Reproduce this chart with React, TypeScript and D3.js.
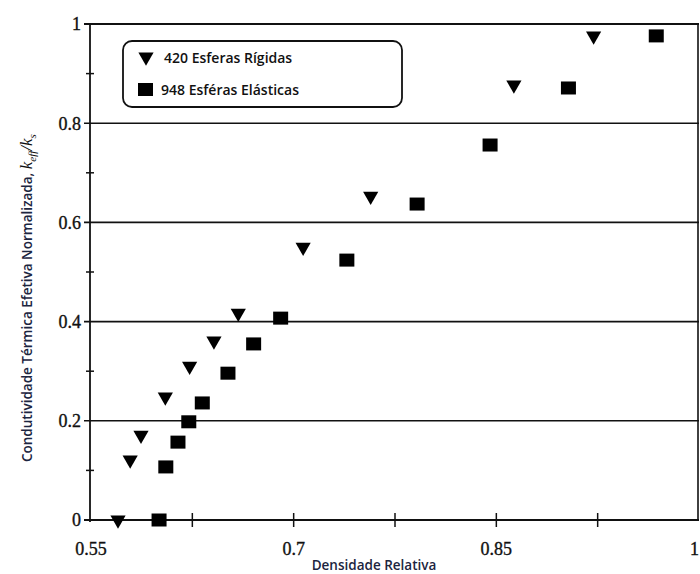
import React from "react";
import * as d3 from "d3";

const rigidX = [0.570, 0.579, 0.587, 0.605, 0.623, 0.641, 0.659, 0.707, 0.757, 0.863, 0.922];
const rigidY = [0.0, 0.121, 0.171, 0.248, 0.310, 0.361, 0.417, 0.550, 0.653, 0.877, 0.976];
const elasticX = [0.600, 0.605, 0.614, 0.622, 0.632, 0.651, 0.670, 0.690, 0.739, 0.791, 0.845, 0.903, 0.968];
const elasticY = [0.0, 0.107, 0.157, 0.198, 0.236, 0.296, 0.355, 0.407, 0.524, 0.637, 0.756, 0.871, 0.976];
const xTickLabels = [0.55, 0.7, 0.85, 1];
const xMinorTicks = [0.625, 0.7, 0.775, 0.85, 0.925];
const yTickLabels = [0, 0.2, 0.4, 0.6, 0.8, 1];
const yGridValues = [0.2, 0.4, 0.6, 0.8];
const yMinorTicks = [0.1, 0.3, 0.5, 0.7, 0.9];
const legendLabels = ["420 Esferas Rígidas", "948 Esféras Elásticas"];
const xTitle = "Densidade Relativa";
const yTitle = "Condutividade Térmica Efetiva Normalizada, ";

export default function App() {
  const x = d3.scaleLinear().domain([0.55, 1]).range([91, 699]);
  const y = d3.scaleLinear().domain([0, 1]).range([520, 24]);
  const tri = d3.symbol().type(d3.symbolTriangle).size(100)();
  const navy = "#1c2540";
  const sans = "'Open Sans', 'Noto Sans', sans-serif";
  const serif = "'Liberation Serif', 'Times New Roman', serif";
  const sq = 14;
  return (
    <svg width={700} height={574} style={{ position: "absolute", left: 0, top: 0, background: "#fff" }}>
      <rect x={0} y={0} width={700} height={574} fill="#fff" />
      {yGridValues.map((v) => (
        <line key={"g" + v} x1={84} x2={699} y1={y(v)} y2={y(v)} stroke="#111" strokeWidth={1.6} />
      ))}
      <line x1={84} x2={699} y1={y(1)} y2={y(1)} stroke="#111" strokeWidth={1.8} />
      <line x1={698} x2={698} y1={y(1)} y2={y(0)} stroke="#111" strokeWidth={1.6} />
      <line x1={x(0.55) - 1} x2={x(0.55) - 1} y1={y(1)} y2={y(0) + 2} stroke="#111" strokeWidth={1.8} />
      <line x1={84} x2={699} y1={y(0)} y2={y(0)} stroke="#111" strokeWidth={1.8} />
      {yMinorTicks.map((v) => (
        <line key={"ym" + v} x1={86} x2={94} y1={y(v)} y2={y(v)} stroke="#111" strokeWidth={1.5} />
      ))}
      {xMinorTicks.map((v) => (
        <line key={"xm" + v} x1={x(v)} x2={x(v)} y1={y(0) - 7} y2={y(0) + 7} stroke="#111" strokeWidth={1.5} />
      ))}
      {yTickLabels.map((v) => (
        <text key={"yl" + v} x={81} y={y(v)} dy="0.35em" textAnchor="end" fontFamily={serif} fontSize={18} fill="#111" stroke="#111" strokeWidth={0.35}>
          {String(v)}
        </text>
      ))}
      {xTickLabels.map((v) => (
        <text key={"xl" + v} x={v === 1 ? 699 : x(v)} y={555} textAnchor={v === 1 ? "end" : "middle"} fontFamily={serif} fontSize={18} fill="#111" stroke="#111" strokeWidth={0.35}>
          {String(v)}
        </text>
      ))}
      <text x={374} y={570} textAnchor="middle" fontFamily={sans} fontWeight={600} fontSize={13.5} fill={navy}>
        {xTitle}
      </text>
      <text transform="translate(32,462) rotate(-90)" fontFamily={sans} fontWeight={600} fontSize={13.5} fill={navy}>
        {yTitle}
        <tspan fontFamily={serif} fontStyle="italic" fontWeight={400} fontSize={17} fill="#111">k</tspan>
        <tspan fontFamily={serif} fontStyle="italic" fontWeight={400} fontSize={11} dy={4} fill="#111">eff</tspan>
        <tspan fontFamily={serif} fontStyle="italic" fontWeight={400} fontSize={17} dy={-4} fill="#111">/k</tspan>
        <tspan fontFamily={serif} fontStyle="italic" fontWeight={400} fontSize={11} dy={4} fill="#111">s</tspan>
      </text>
      {rigidX.map((v, i) => (
        <path key={"r" + i} d={tri!} transform={`translate(${x(v)},${y(rigidY[i])}) rotate(180)`} fill="#000" />
      ))}
      {elasticX.map((v, i) => (
        <rect key={"e" + i} x={x(v) - sq / 2} y={y(elasticY[i]) - sq / 2 + 0.5} width={sq + 1} height={sq - 1} fill="#000" />
      ))}
      <rect x={123} y={41} width={279} height={66} rx={9} fill="#fff" stroke="#111" strokeWidth={1.8} />
      <path d={tri!} transform="translate(146,57) rotate(180)" fill="#000" />
      <rect x={138} y={83} width={15} height={13} fill="#000" />
      <text x={164} y={58} dy="0.35em" fontFamily={sans} fontWeight={600} fontSize={14} fill="#111">
        {legendLabels[0]}
      </text>
      <text x={161} y={90} dy="0.35em" fontFamily={sans} fontWeight={600} fontSize={14} fill="#111">
        {legendLabels[1]}
      </text>
    </svg>
  );
}
